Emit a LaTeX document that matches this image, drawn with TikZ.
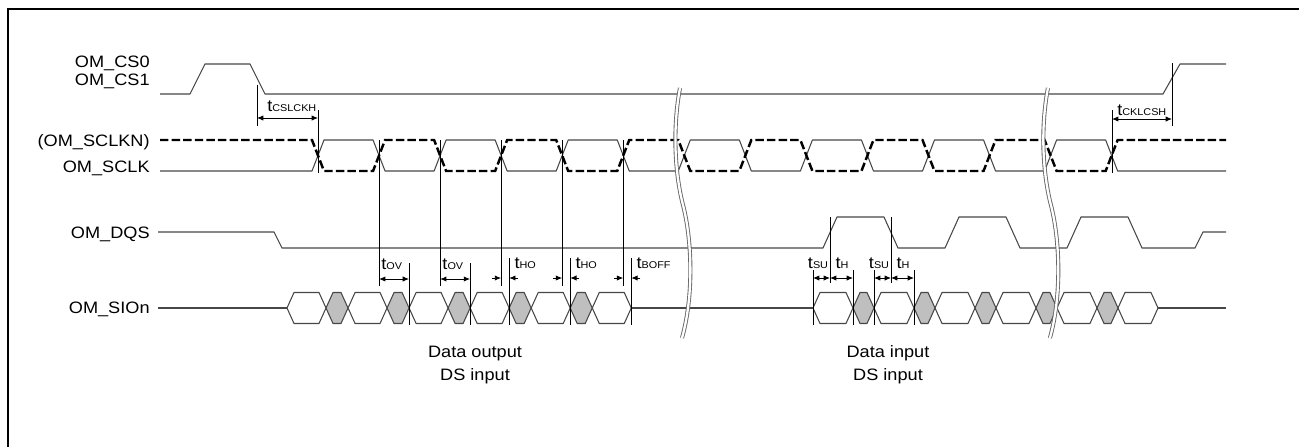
\documentclass[tikz,border=0pt]{standalone}
\usepackage{graphicx}
\usepackage{fontspec}
\setmainfont{Liberation Sans}
\usetikzlibrary{arrows.meta}

\newcommand{\sx}[1]{\scalebox{1.1}[1]{#1}}
\newcommand{\tsub}[1]{\sx{t{\fontsize{5.6}{6}\selectfont #1}}}
\newcommand{\hexa}[3][wave]{\draw [#1] (#2,308) -- (#2+7,292.5) -- (#3-7,292.5) -- (#3,308) -- (#3-7,323.5) -- (#2+7,323.5) -- cycle;}

\tikzset{
  wave/.style={draw=black!72, line width=0.6pt, line join=round},
  greyhex/.style={wave, fill=black!25},
  clkn/.style={draw=black, line width=1.4pt, dash pattern=on 4.8pt off 1.8pt},
  markline/.style={draw=black, line width=0.5pt},
  dimboth/.style={markline, {Latex[length=3.6pt,width=3pt]}-{Latex[length=3.6pt,width=3pt]}},
  dimto/.style={markline, -{Latex[length=3.6pt,width=3pt]}},
  signame/.style={anchor=base east, inner sep=0pt, font=\fontsize{9.4}{11}\selectfont},
  tlab/.style={anchor=base, inner sep=0pt, font=\fontsize{9.4}{11}\selectfont},
  brk/.style={draw=black!60, line width=0.5pt, double=white, double distance=1.3pt},
}

\begin{document}
\begin{tikzpicture}[x=0.02cm,y=-0.02cm]
  \useasboundingbox (0,0) rectangle (1299,447);
  \draw [line width=1pt] (1299,9) -- (8,9) -- (8,447);
  % signal names
  \node [signame] (cs0) at (150,67) {\sx{OM\_CS0}};
  \node [signame] (cs1) at (150,85) {\sx{OM\_CS1}};
  \node [signame] (sclkn) at (150,146) {\sx{(OM\_SCLKN)}};
  \node [signame] (sclk) at (150,172) {\sx{OM\_SCLK}};
  \node [signame] (dqs) at (150,238) {\sx{OM\_DQS}};
  \node [signame] (sio) at (150,313) {\sx{OM\_SIOn}};
  % chip selects
  \draw [wave] (160,94) -- (190,94) -- (205,64) -- (250,64) -- (265,94) -- (1163,94) -- (1180,64) -- (1226,64);
  % clock, then the inverted clock on top
  \draw [wave] (160,171) \foreach \kk in {0,2,...,12} {
    -- (312+61.05*\kk,171) -- (324+61.05*\kk,140) -- (373.05+61.05*\kk,140) -- (385.05+61.05*\kk,171) } -- (1226,171);
  \draw [clkn] (160,140) \foreach \kk in {0,2,...,12} {
    -- (312+61.05*\kk,140) -- (324+61.05*\kk,171) -- (373.05+61.05*\kk,171) -- (385.05+61.05*\kk,140) } -- (1226,140);
  % data strobe
  \draw [wave] (158,232) -- (274,232) -- (282,248) \foreach \jj in {0,2,4} {
    -- (823+61*\jj,248) -- (837+61*\jj,217) -- (884+61*\jj,217) -- (898+61*\jj,248) }
    -- (1195,248) -- (1203,232) -- (1226,232);
  % data lines, output part
  \draw [wave] (158,308) -- (287,308);
  \foreach \kk [evaluate=\kk as \cx using 318+61.05*\kk] in {0,...,5} {\hexa{\cx-31}{\cx+8}}
  \foreach \kk [evaluate=\kk as \cx using 318+61.05*\kk] in {0,...,4} {\hexa[greyhex]{\cx+8}{\cx+30}}
  \draw [wave] (631,308) -- (813,308);
  % data lines, input part
  \foreach \jj [evaluate=\jj as \dx using 830+61*\jj] in {0,...,5} {\hexa{\dx-17}{\dx+23}}
  \foreach \jj [evaluate=\jj as \dx using 830+61*\jj] in {0,...,4} {\hexa[greyhex]{\dx+23}{\dx+44}}
  \draw [wave] (1158,308) -- (1226,308);

  % tCSLCKH
  \draw [markline] (257,85) -- (257,126);
  \draw [markline] (318,110) -- (318,173);
  \coordinate (csla) at (257,118);
  \coordinate (cslb) at (318,118);
  \draw [dimboth] (csla) -- (cslb);
  \node [tlab, anchor=base west] (tcslckh) at (267,111) {\tsub{CSLCKH}};
  % tCKLCSH
  \draw [markline] (1112,110) -- (1112,173);
  \draw [markline] (1172,63) -- (1172,126);
  \coordinate (ckla) at (1112,119);
  \coordinate (cklb) at (1172,119);
  \draw [dimboth] (ckla) -- (cklb);
  \node [tlab, anchor=base west] (tcklcsh) at (1117,115) {\tsub{CKLCSH}};

  % clock edges down to the data
  \foreach \kk [evaluate=\kk as \cx using 318+61.05*\kk] in {1,...,5} {\draw [markline] (\cx,140) -- (\cx,286);}
  % tOV
  \foreach \kk [evaluate=\kk as \cx using 318+61.05*\kk] in {1,2} {
    \draw [markline] (\cx+30,263) -- (\cx+30,325);
    \coordinate (ova\kk) at (\cx,279);
    \coordinate (ovb\kk) at (\cx+30,279);
    \draw [dimboth] (ova\kk) -- (ovb\kk);
    \node [tlab, anchor=base west] (tov\kk) at (\cx+2,269) {\tsub{OV}};
  }
  % tHO and tBOFF
  \foreach \kk/\txt [evaluate=\kk as \cx using 318+61.05*\kk] in {3/HO,4/HO,5/BOFF} {
    \draw [markline] (\cx+8,258) -- (\cx+8,325);
    \coordinate (hoa\kk) at (\cx-9,278);
    \coordinate (hob\kk) at (\cx,278);
    \coordinate (hoc\kk) at (\cx+17,278);
    \coordinate (hod\kk) at (\cx+8,278);
    \draw [dimto] (hoa\kk) -- (hob\kk);
    \draw [dimto] (hoc\kk) -- (hod\kk);
    \node [tlab, anchor=base west] (tho\kk) at (\cx+13,268) {\tsub{\txt}};
  }
  % tSU and tH
  \foreach \jj [evaluate=\jj as \dx using 830+61*\jj] in {0,1} {
    \draw [markline] (\dx,217) -- (\dx,283);
    \draw [markline] (\dx-17,270) -- (\dx-17,325);
    \draw [markline] (\dx+23,270) -- (\dx+23,325);
    \coordinate (su\jj) at (\dx-17,278);
    \coordinate (dq\jj) at (\dx,278);
    \coordinate (hd\jj) at (\dx+23,278);
    \draw [dimboth] (su\jj) -- (dq\jj);
    \draw [dimboth] (dq\jj) -- (hd\jj);
    \node [tlab] (tsu\jj) at (\dx-12,268) {\tsub{SU}};
    \node [tlab] (th\jj) at (\dx+12,268) {\tsub{H}};
  }

  % time breaks
  \draw [brk] (680,88) .. controls (673,125) and (674,170) .. (683,205) .. controls (692,240) and (694,295) .. (682,338);
  \begin{scope}[xshift=7.36cm]
    \draw [brk] (680,88) .. controls (673,125) and (674,170) .. (683,205) .. controls (692,240) and (694,295) .. (682,338);
  \end{scope}

  % captions
  \node [tlab] (outa) at (475,357) {\sx{Data output}};
  \node [tlab] (outb) at (475,380) {\sx{DS input}};
  \node [tlab] (ina) at (888,357) {\sx{Data input}};
  \node [tlab] (inb) at (888,380) {\sx{DS input}};
\end{tikzpicture}
\end{document}
